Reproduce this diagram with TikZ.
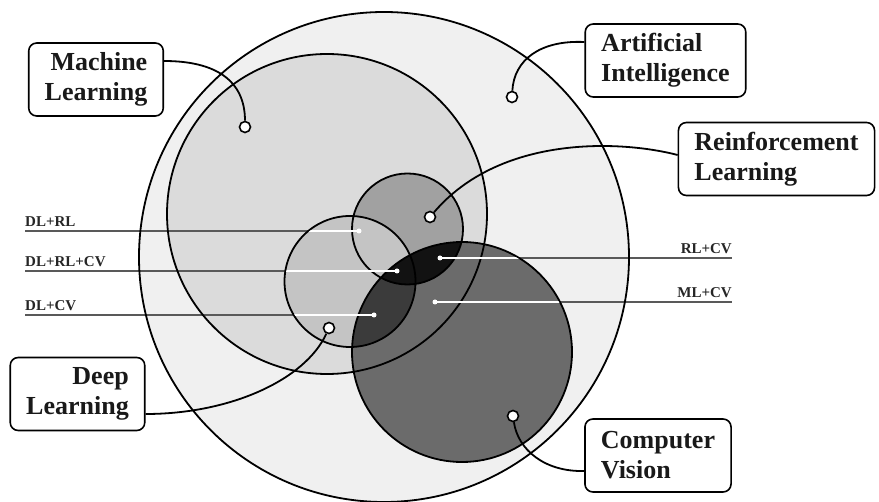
\documentclass[tikz,border=0pt]{standalone}
\usepackage{fontspec}
\setmainfont{Liberation Serif}
\usetikzlibrary{calc}

\begin{document}
\begin{tikzpicture}[x=1pt,y=-1pt]

\tikzstyle{vennset} = [draw=black,line width=1.8pt]%
\tikzstyle{vennbox} = [draw=black,line width=1.6pt,rounded corners=8pt,fill=white,inner xsep=16pt,inner ysep=6pt,minimum height=73pt,font=\fontsize{26}{30}\selectfont\bfseries,text=black!90]%
\tikzstyle{venntag} = [inner xsep=0pt,inner ysep=4pt,font=\fontsize{15}{15}\selectfont\bfseries,text=black!85]%
\tikzstyle{vennlead} = [draw=black!65,line width=1.4pt]%
\tikzstyle{vennlight} = [draw=white,line width=1.2pt]%
\tikzstyle{vennpin} = [circle,draw=black,line width=1.6pt,fill=white,inner sep=0,minimum size=11pt]%
\tikzstyle{venndot} = [circle,fill=white,inner sep=0,minimum size=5pt]%
\tikzstyle{vennarc} = [draw=black,line width=1.8pt]%

\useasboundingbox (0,0) rectangle (879,502);

\coordinate (ai) at (384,257);
\coordinate (ml) at (327,214);
\coordinate (rl) at (407.5,229);
\coordinate (dl) at (350,281.5);
\coordinate (cv) at (462,352);

% sets
\fill[black!6] (ai) circle (245pt);
\fill[black!14] (ml) circle (160pt);
\fill[black!37] (rl) circle (55.5pt);
\fill[black!23] (dl) circle (65.5pt);
\fill[black!58] (cv) circle (110pt);
\begin{scope}
\clip (dl) circle (65.5pt);
\fill[black!77] (cv) circle (110pt);
\end{scope}
\begin{scope}
\clip (rl) circle (55.5pt);
\fill[black!93] (cv) circle (110pt);
\end{scope}

% overlap labels
\node[venntag,anchor=south west] (dlrltag) at (25,231) {DL+RL};
\node[venntag,anchor=south west] (dlrlcvtag) at (25,271) {DL+RL+CV};
\node[venntag,anchor=south west] (dlcvtag) at (25,315) {DL+CV};
\node[venntag,anchor=south east] (rlcvtag) at (732,258) {RL+CV};
\node[venntag,anchor=south east] (mlcvtag) at (732,302) {ML+CV};

\coordinate (dlrldot) at (359,231);
\coordinate (dlrlcvdot) at (397,271);
\coordinate (dlcvdot) at (374,315);
\coordinate (rlcvdot) at (440,258);
\coordinate (mlcvdot) at (435,302);

\draw[vennlead] (dlrltag.south west) -- (dlrldot);
\draw[vennlead] (dlrlcvtag.south west) -- (dlrlcvdot);
\draw[vennlead] (dlcvtag.south west) -- (dlcvdot);
\draw[vennlead] (rlcvdot) -- (rlcvtag.south east);
\draw[vennlead] (mlcvdot) -- (mlcvtag.south east);

\draw[vennset] (ai) circle (245pt);
\draw[vennset] (ml) circle (160pt);
\draw[vennset] (rl) circle (55.5pt);
\draw[vennset] (dl) circle (65.5pt);
\draw[vennset] (cv) circle (110pt);

\begin{scope}
\clip (dl) circle (64.6pt);
\draw[vennlight] (dlrltag.south west) -- (dlrldot);
\draw[vennlight] (dlrlcvtag.south west) -- (dlrlcvdot);
\draw[vennlight] (dlcvtag.south west) -- (dlcvdot);
\end{scope}
\begin{scope}
\clip (cv) circle (109.1pt);
\draw[vennlight] (rlcvdot) -- (rlcvtag.south east);
\draw[vennlight] (mlcvdot) -- (mlcvtag.south east);
\end{scope}

\foreach \d in {dlrldot,dlrlcvdot,dlcvdot,rlcvdot,mlcvdot}
    \node[venndot] at (\d) {};

% set names
\node[vennbox,align=right] (mlbox) at (96,79.5) {Machine\\Learning};
\node[vennbox,align=left] (aibox) at (665.5,60.5) {Artificial\\Intelligence};
\node[vennbox,align=left] (rlbox) at (776.5,159) {Reinforcement\\Learning};
\node[vennbox,align=right] (dlbox) at (77.5,394) {Deep\\Learning};
\node[vennbox,align=left] (cvbox) at (658,455.5) {Computer\\Vision};

\node[vennpin] (mlpin) at (245,127) {};
\node[vennpin] (aipin) at (512,97) {};
\node[vennpin] (rlpin) at (430,217) {};
\node[vennpin] (dlpin) at (329,328) {};
\node[vennpin] (cvpin) at (513,416) {};

\draw[vennarc] ([yshift=18.5pt]mlbox.east) .. controls (215,61) and (245,80) .. (mlpin);
\draw[vennarc] ([yshift=18.5pt]aibox.west) .. controls (540,40) and (514,60) .. (aipin);
\draw[vennarc] ([yshift=4pt]rlbox.west) .. controls (620,140) and (500,135) .. (rlpin);
\draw[vennarc] ([yshift=-20pt]dlbox.east) .. controls (230,414) and (305,380) .. (dlpin);
\draw[vennarc] ([yshift=-15.5pt]cvbox.west) .. controls (545,472) and (518,450) .. (cvpin);

\end{tikzpicture}
\end{document}
